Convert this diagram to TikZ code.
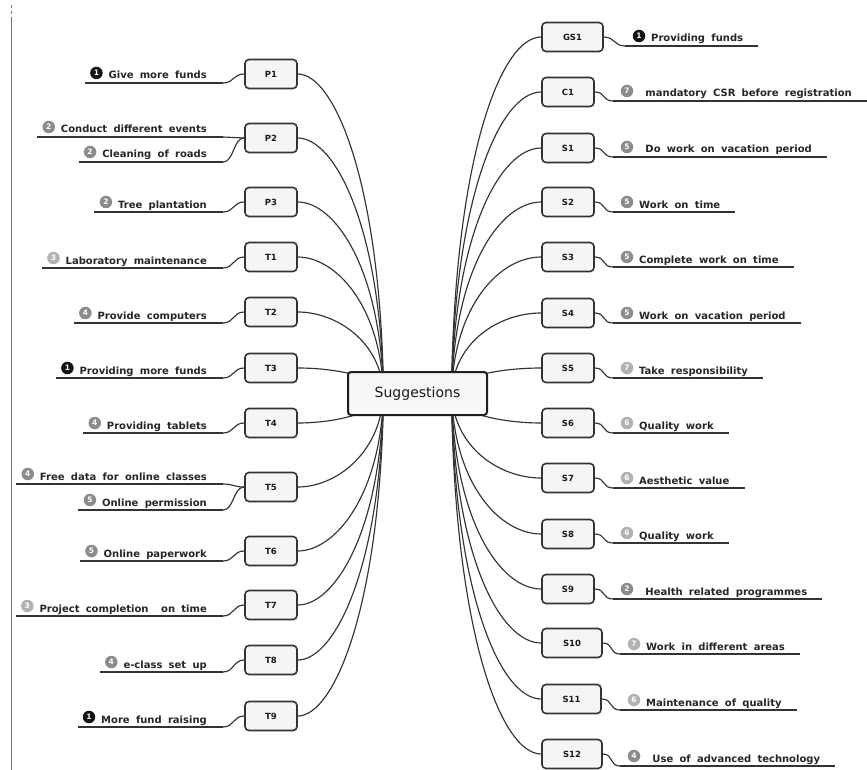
\documentclass[tikz,border=0pt]{standalone}
\usepackage{fontspec}
\setmainfont{DejaVu Sans}
\newfontfamily\labfont[WordSpace=1.8]{DejaVu Sans}
\usetikzlibrary{calc}
\pgfdeclarelayer{bg}
\pgfsetlayers{bg,main}
\tikzset{
  conn/.style={draw=black!80, line width=1.15pt},
  uline/.style={draw=black!80, line width=1.35pt},
  box/.style={draw=black!80, line width=1.6pt, rounded corners=4pt, fill=black!4,
    minimum width=52pt, minimum height=29pt, inner sep=0pt,
    font=\bfseries\fontsize{8.5}{10}\selectfont, text=black!90},
  hub/.style={draw=black!88, line width=2pt, rounded corners=3pt, fill=black!3,
    minimum width=139pt, minimum height=43pt, inner sep=0pt,
    font=\fontsize{14}{16}\selectfont, text=black!90},
  lab/.style={inner sep=0pt, font=\labfont\bfseries\fontsize{10}{12}\selectfont, text=black!85},
  mkA/.style={circle, fill=black!92, inner sep=0pt, minimum size=12.5pt, text=white,
    font=\bfseries\fontsize{7.5}{7.5}\selectfont},
  mkB/.style={mkA, fill=black!45},
  mkC/.style={mkA, fill=black!30},
}
% left label: #1 box, #2 suffix, #3 underline y, #4 marker style, #5 number, #6 text
\newcommand\LeftItem[6]{%
  \coordinate (#1#2u) at (223,#3);
  \node[lab, anchor=base east] (#1#2t) at (207,{#3-4}) {#6};
  \path (#1#2t.base west) ++(-12,-6) node[#4] (#1#2m) {#5};
  \coordinate (#1#2s) at ([xshift=-5pt]#1#2m.west);
  \draw[conn] (#1.west) .. controls +(-11,0) and +(11,0) .. (#1#2u);
  \draw[uline] (#1#2u) -- (#1#2s |- #1#2u);
}
% right label: #1 box, #2 underline start x, #3 underline y, #4 marker style, #5 number, #6 text
\newcommand\RightItem[6]{%
  \coordinate (#1u) at (#2,#3);
  \node[#4] (#1m) at ({#2+14},{#3-10}) {#5};
  \path (#1m.center) ++(12,6) node[lab, anchor=base west] (#1t) {#6};
  \coordinate (#1s) at ([xshift=15pt]#1t.east);
  \draw[conn] (#1.east) .. controls +(11,0) and +(-11,0) .. (#1u);
  \draw[uline] (#1u) -- (#1s |- #1u);
}
\newcommand\LBr[2]{\draw[conn] (cL) .. controls (381,{#2+0.35*(393-#2)}) and (335,#2) .. (#1.east);}
\newcommand\RBr[2]{\draw[conn] (cR) .. controls (454,{#2+0.35*(393-#2)}) and (500,#2) .. (#1.west);}

\begin{document}
\begin{tikzpicture}[x=1pt,y=-1pt]
\useasboundingbox (0,0) rectangle (867,770);
\begin{pgfonlayer}{bg}
\fill[white] (0,0) rectangle (867,770);
\end{pgfonlayer}
% scan border
\draw[black!55, line width=0.8pt] (11,20) -- (11,770);
\draw[black!55, line width=0.8pt, dashed] (11,5) -- (11,20);

% central topic
\node[hub] (ctr) at (417.5,393.5) {Suggestions};
\coordinate (cL) at ([xshift=-34pt]ctr.center);
\coordinate (cR) at ([xshift=34pt]ctr.center);

% left boxes
\node[box] (P1) at (271,74) {P1};
\node[box] (P2) at (271,138) {P2};
\node[box] (P3) at (271,202) {P3};
\node[box] (T1) at (271,257) {T1};
\node[box] (T2) at (271,312) {T2};
\node[box] (T3) at (271,368) {T3};
\node[box] (T4) at (271,423) {T4};
\node[box] (T5) at (271,487) {T5};
\node[box] (T6) at (271,551) {T6};
\node[box] (T7) at (271,605) {T7};
\node[box] (T8) at (271,660) {T8};
\node[box] (T9) at (271,716) {T9};

% right boxes
\node[box, minimum width=61pt] (GS1) at (572.5,37) {GS1};
\node[box] (C1) at (568,92) {C1};
\node[box] (S1) at (568,148) {S1};
\node[box] (S2) at (568,202) {S2};
\node[box] (S3) at (568,257) {S3};
\node[box] (S4) at (568,313) {S4};
\node[box] (S5) at (568,368) {S5};
\node[box] (S6) at (568,423) {S6};
\node[box] (S7) at (568,478) {S7};
\node[box] (S8) at (568,534) {S8};
\node[box] (S9) at (568,589) {S9};
\node[box, minimum width=60pt] (S10) at (572,643) {S10};
\node[box, minimum width=59pt] (S11) at (571.5,699) {S11};
\node[box, minimum width=60pt] (S12) at (572,754) {S12};

% branches from the central topic
\begin{pgfonlayer}{bg}
\LBr{P1}{74}\LBr{P2}{138}\LBr{P3}{202}\LBr{T1}{257}\LBr{T2}{312}\LBr{T3}{368}
\LBr{T4}{423}\LBr{T5}{487}\LBr{T6}{551}\LBr{T7}{605}\LBr{T8}{660}\LBr{T9}{716}
\RBr{GS1}{37}\RBr{C1}{92}\RBr{S1}{148}\RBr{S2}{202}\RBr{S3}{257}\RBr{S4}{313}
\RBr{S5}{368}\RBr{S6}{423}\RBr{S7}{478}\RBr{S8}{534}\RBr{S9}{589}\RBr{S10}{643}
\RBr{S11}{699}\RBr{S12}{754}
\end{pgfonlayer}

% left labels
\LeftItem{P1}{}{83}{mkA}{1}{Give more funds}
\LeftItem{P2}{a}{137}{mkB}{2}{Conduct different events}
\LeftItem{P2}{b}{162}{mkB}{2}{Cleaning of roads}
\LeftItem{P3}{}{212}{mkB}{2}{Tree plantation}
\LeftItem{T1}{}{268}{mkC}{3}{Laboratory maintenance}
\LeftItem{T2}{}{323}{mkB}{4}{Provide computers}
\LeftItem{T3}{}{378}{mkA}{1}{Providing more funds}
\LeftItem{T4}{}{433}{mkB}{4}{Providing tablets}
\LeftItem{T5}{a}{484}{mkB}{4}{Free data for online classes}
\LeftItem{T5}{b}{510}{mkB}{5}{Online permission}
\LeftItem{T6}{}{561}{mkB}{5}{Online paperwork}
\LeftItem{T7}{}{616}{mkC}{3}{Project completion \ on time}
\LeftItem{T8}{}{672}{mkB}{4}{e-class set up}
\LeftItem{T9}{}{727}{mkA}{1}{More fund raising}

% right labels
\RightItem{GS1}{625}{46}{mkA}{1}{Providing funds}
\RightItem{C1}{613}{101}{mkB}{7}{\ mandatory CSR before registration}
\RightItem{S1}{613}{157}{mkB}{5}{\ Do work on vacation period}
\RightItem{S2}{613}{212}{mkB}{5}{Work on time}
\RightItem{S3}{613}{267}{mkB}{5}{Complete work on time}
\RightItem{S4}{613}{323}{mkB}{5}{Work on vacation period}
\RightItem{S5}{613}{378}{mkC}{7}{Take responsibility}
\RightItem{S6}{613}{433}{mkC}{6}{Quality work}
\RightItem{S7}{613}{488}{mkC}{6}{Aesthetic value}
\RightItem{S8}{613}{543}{mkC}{6}{Quality work}
\RightItem{S9}{613}{599}{mkB}{2}{\ Health related programmes}
\RightItem{S10}{620}{654}{mkC}{7}{Work in different areas}
\RightItem{S11}{620}{710}{mkC}{6}{Maintenance of quality}
\RightItem{S12}{620}{766}{mkB}{4}{\ Use of advanced technology}
\end{tikzpicture}
\end{document}
